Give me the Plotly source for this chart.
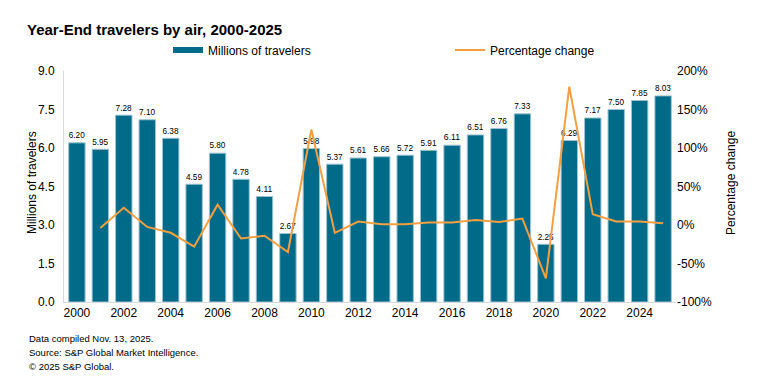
import plotly.graph_objects as go

years = list(range(2000, 2026))
travelers = [6.20, 5.95, 7.28, 7.10, 6.38, 4.59, 5.80, 4.78, 4.11, 2.67, 5.98, 5.37, 5.61,
             5.66, 5.72, 5.91, 6.11, 6.51, 6.76, 7.33, 2.25, 6.29, 7.17, 7.50, 7.85, 8.03]
pct_years = list(range(2001, 2026))
pct_change = [-4.0, 22.4, -2.5, -10.1, -28.1, 26.4, -17.6, -14.0, -35.0, 124.0, -10.2, 4.5,
              0.9, 1.1, 3.3, 3.4, 6.5, 3.8, 8.4, -69.3, 179.6, 14.0, 4.6, 4.7, 2.3]
left_ticks = [0, 1.5, 3, 4.5, 6, 7.5, 9]
right_ticks = [-100, -50, 0, 50, 100, 150, 200]

# page body has an 8px margin; work in page pixels and convert
OFF = 8
W, H = 764 - OFF, 384 - OFF
L, R, T, B = 64 - OFF, 676 - OFF, 71 - OFF, 302 - OFF
PW, PH = R - L, B - T


def cx(px):
    return (px - OFF) / W


def cy(py):
    return 1 - (py - OFF) / H


def px_x(px):
    return (px - OFF - L) / PW


def px_y(py):
    return (B - (py - OFF)) / PH


BAR_COLOR = "#006A89"
font = "Liberation Sans, Arial, sans-serif"
fig = go.Figure()
fig.add_trace(go.Bar(
    x=years, y=travelers, name="Millions of travelers",
    marker=dict(color=BAR_COLOR, line=dict(color="#9CC3D2", width=1)),
    text=[f"{v:.2f}" for v in travelers], textposition="outside",
    textfont=dict(size=10, color="#000000", family=font), cliponaxis=False,
    showlegend=False))
# legend entry drawn as a wide flat swatch, like the reference
fig.add_trace(go.Scatter(
    x=[None], y=[None], name="Millions of travelers", mode="lines",
    line=dict(color=BAR_COLOR, width=6), legend="legend", hoverinfo="skip"))
fig.add_trace(go.Scatter(
    x=pct_years, y=pct_change, name="Percentage change", mode="lines",
    line=dict(color="#F2A041", width=2), yaxis="y2", legend="legend2"))

fig.update_layout(
    width=W, height=H, paper_bgcolor="white", plot_bgcolor="white",
    margin=dict(l=L, r=W - R, t=T, b=H - B, autoexpand=False),
    font=dict(family=font, size=12, color="#000000"),
    title=dict(text="<b>Year-End travelers by air, 2000-2025</b>", x=cx(27), xanchor="left",
               xref="container", yref="container", y=cy(30), yanchor="middle",
               font=dict(size=15, family=font)),
    bargap=0.3, showlegend=True,
    xaxis=dict(range=[1999.45, 2025.55], tickmode="array", tickvals=list(range(2000, 2026, 2)),
               showgrid=False, showline=True, linecolor="#D9D9D9", ticks="",
               tickfont=dict(size=12), automargin=False),
    yaxis=dict(range=[0, 9], tickvals=left_ticks, ticktext=[f"{v:.1f}" for v in left_ticks],
               showgrid=False, showline=True, linecolor="#D9D9D9", zeroline=False,
               ticks="outside", ticklen=6, tickcolor="rgba(0,0,0,0)", automargin=False,
               tickfont=dict(size=12)),
    yaxis2=dict(range=[-100, 200], tickvals=right_ticks,
                ticktext=[f"{v}%" for v in right_ticks],
                overlaying="y", side="right", showgrid=False, automargin=False,
                showline=False, zeroline=False, tickfont=dict(size=12)),
    legend=dict(x=cx(168), y=cy(50), xref="container", yref="container",
                xanchor="left", yanchor="middle", orientation="h", itemwidth=30,
                font=dict(size=12), bgcolor="rgba(0,0,0,0)"),
    legend2=dict(x=cx(450), y=cy(50), xref="container", yref="container",
                 xanchor="left", yanchor="middle", orientation="h", itemwidth=30,
                 font=dict(size=12), bgcolor="rgba(0,0,0,0)"),
)

# axis titles
fig.add_annotation(text="Millions of travelers", xref="paper", yref="paper",
                   x=px_x(32), y=px_y(183), xanchor="center", yanchor="middle",
                   textangle=-90, showarrow=False, font=dict(size=12, family=font))
fig.add_annotation(text="Percentage change", xref="paper", yref="paper",
                   x=px_x(731), y=px_y(183), xanchor="center", yanchor="middle",
                   textangle=-90, showarrow=False, font=dict(size=12, family=font))

notes = ["Data compiled Nov. 13, 2025.", "Source: S&P Global Market Intelligence.",
         "\u00a9 2025 S&P Global."]
for i, t in enumerate(notes):
    fig.add_annotation(text=t, xref="paper", yref="paper", x=px_x(27), xanchor="left",
                       y=px_y(338 + i * 14), yanchor="middle",
                       showarrow=False, font=dict(size=9.5, family=font))

fig.write_html("out.html")
